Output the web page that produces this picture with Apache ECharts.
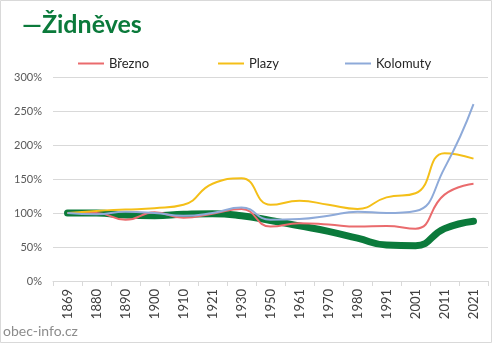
<!DOCTYPE html>
<html><head><meta charset="utf-8">
<script src="https://cdn.jsdelivr.net/npm/echarts@6/dist/echarts.min.js"></script>
<style>html,body{margin:0;padding:0;background:#fff}#c{width:492px;height:343px}</style>
</head><body><div id="c"></div>
<script>
var years = ['1869','1880','1890','1900','1910','1921','1930','1950','1961','1970','1980','1991','2001','2011','2021'];
var zidneves = [100,100,97,96,98,99,96,89,81,73,63,53,52,77,88];
var brezno = [100,100,90,101,93,99,106,80,85,83,80,81,77,127,143];
var plazy = [100,103,105,107,112,143,151,112,118,112,106,123,129,188,180];
var kolomuty = [100,98,102,100,96,100,108,90,91,96,102,100,103,166,260];
var yTicks = [0,50,100,150,200,250,300];

var chart = echarts.init(document.getElementById('c'), null, {renderer:'canvas'});
var font = 'Lato, "Open Sans", sans-serif';
function legend(name, left){
  return {data:[name], left:left, top:52, icon:'rect', itemWidth:26, itemHeight:2,
    itemGap:4, textStyle:{fontFamily:font, fontSize:13, color:'#262626'}, selectedMode:false};
}
chart.setOption({
  animation:false,
  title:{text:'\u2014Židněves', left:17, top:7,
    textStyle:{fontFamily:font, fontWeight:'bold', fontSize:25, color:'#0b7a3b'}},
  legend:[legend('Březno',73), legend('Plazy',213), legend('Kolomuty',340)],
  grid:{left:53, right:4, top:77, bottom:62},
  xAxis:{type:'category', data:years, boundaryGap:true,
    axisLine:{lineStyle:{color:'#d9d9d9'}},
    axisTick:{show:true, length:5, lineStyle:{color:'#d9d9d9'}},
    axisLabel:{rotate:90, fontFamily:font, fontSize:13, color:'#404040', margin:8, interval:0}},
  yAxis:{type:'value', min:yTicks[0], max:yTicks[yTicks.length-1], interval:50,
    axisLine:{show:false}, axisTick:{show:false},
    splitLine:{lineStyle:{color:'#d9d9d9'}},
    axisLabel:{formatter:'{value}%', fontFamily:font, fontSize:11, color:'#595959', margin:11}},
  graphic:[
    {type:'rect', shape:{x:0.5,y:0.5,width:491,height:342}, style:{fill:'none', stroke:'#d9d9d9', lineWidth:1}, silent:true},
    {type:'text', left:3, top:324, style:{text:'obec-info.cz', fontFamily:font, fontSize:14, fill:'#8c8c8c'}}
  ],
  series:[
    {name:'Židněves', type:'line', data:zidneves, smooth:0.5, symbol:'none', lineStyle:{width:7, color:'#0b7a3b', cap:'round'}, itemStyle:{color:'#0b7a3b'}},
    {name:'Březno', type:'line', data:brezno, smooth:0.5, symbol:'none', lineStyle:{width:2, color:'#ea6b6d'}, itemStyle:{color:'#ea6b6d'}},
    {name:'Plazy', type:'line', data:plazy, smooth:0.5, symbol:'none', lineStyle:{width:2, color:'#f4bf18'}, itemStyle:{color:'#f4bf18'}},
    {name:'Kolomuty', type:'line', data:kolomuty, smooth:0.5, symbol:'none', lineStyle:{width:2, color:'#8eaad9'}, itemStyle:{color:'#8eaad9'}}
  ]
});
</script></body></html>
